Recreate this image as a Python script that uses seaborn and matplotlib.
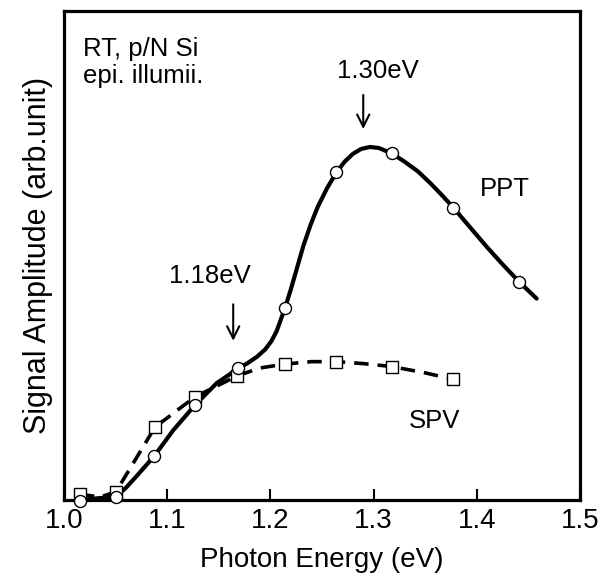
import matplotlib
matplotlib.use("Agg")
import matplotlib.pyplot as plt
import seaborn as sns
import pandas as pd

# markers (photon energy in eV, amplitude in arb. units 0-10)
ppt_x = [1.0155, 1.0504, 1.0875, 1.1269, 1.1689, 1.2141, 1.264, 1.3175, 1.3773, 1.4412]
ppt_y = [-0.02, 0.07, 0.90, 1.94, 2.69, 3.92, 6.70, 7.09, 5.98, 4.46]
spv_x = [1.0155, 1.0504, 1.0882, 1.127, 1.168, 1.214, 1.264, 1.3175, 1.377]
spv_y = [0.12, 0.17, 1.49, 2.11, 2.54, 2.78, 2.83, 2.73, 2.47]

# hand drawn smooth curves
ppt_curve_x = [1.0155, 1.030, 1.0504, 1.060, 1.070, 1.0875, 1.106, 1.1269, 1.148, 1.1689,
               1.178, 1.187, 1.195, 1.201, 1.206, 1.2141, 1.220, 1.226, 1.232, 1.239,
               1.246, 1.255, 1.264, 1.272, 1.280, 1.288, 1.2965, 1.305, 1.3175, 1.330,
               1.343, 1.355, 1.366, 1.3773, 1.393, 1.4096, 1.425, 1.4412, 1.458]
ppt_curve_y = [0.00, 0.03, 0.07, 0.25, 0.48, 0.90, 1.43, 1.94, 2.39, 2.69,
               2.80, 2.93, 3.08, 3.25, 3.45, 3.92, 4.32, 4.76, 5.20, 5.63,
               6.00, 6.38, 6.70, 6.92, 7.08, 7.18, 7.22, 7.20, 7.09, 6.92,
               6.72, 6.48, 6.24, 5.98, 5.59, 5.18, 4.82, 4.46, 4.12]
spv_curve_x = [1.0155, 1.035, 1.0504, 1.0882, 1.127, 1.168, 1.19, 1.214, 1.24, 1.264,
               1.29, 1.3175, 1.35, 1.377]
spv_curve_y = [0.12, 0.06, 0.17, 1.49, 2.11, 2.54, 2.70, 2.78, 2.83, 2.83,
               2.79, 2.73, 2.60, 2.47]

sns.set_style("ticks")
plt.rcParams['font.family'] = ['Liberation Sans', 'DejaVu Sans']
plt.rcParams['text.color'] = 'black'
plt.rcParams['axes.labelcolor'] = 'black'
plt.rcParams['xtick.color'] = 'black'

fig = plt.figure(figsize=(6.11, 5.75), dpi=100)
ax = fig.add_axes([0.1047, 0.1304, 0.8445, 0.8504])

ppt_line = pd.DataFrame({"E": ppt_curve_x, "S": ppt_curve_y})
spv_line = pd.DataFrame({"E": spv_curve_x, "S": spv_curve_y})

sns.lineplot(data=spv_line, x="E", y="S", sort=False, estimator=None, ax=ax,
             color="black", lw=2.6, linestyle=(0, (4, 2.5)), zorder=2)
sns.lineplot(data=ppt_line, x="E", y="S", sort=False, estimator=None, ax=ax,
             color="black", lw=3.0, zorder=3)

sns.scatterplot(x=spv_x, y=spv_y, marker="s", s=64, facecolor="white",
                edgecolor="black", linewidth=1.0, ax=ax, zorder=4, clip_on=False)
sns.scatterplot(x=ppt_x, y=ppt_y, marker="o", s=75, facecolor="white",
                edgecolor="black", linewidth=1.0, ax=ax, zorder=5, clip_on=False)

ax.set_xlim(1.0, 1.5)
ax.set_ylim(0, 10)
ax.set_xticks([1.0, 1.1, 1.2, 1.3, 1.4, 1.5])
ax.set_xticklabels(["1.0", "1.1", "1.2", "1.3", "1.4", "1.5"])
ax.set_yticks([])
ax.tick_params(axis="x", direction="in", length=8, width=1.5, labelsize=20, pad=6,
               colors="black")
for sp in ax.spines.values():
    sp.set_visible(True)
    sp.set_linewidth(2.3)
    sp.set_color("black")

ax.set_xlabel("Photon Energy (eV)", fontsize=20, labelpad=9, color="black")
ax.set_ylabel("Signal Amplitude (arb.unit)", fontsize=22, labelpad=8, color="black")

fs = 18.5
ax.text(1.0184, 9.08, "RT, p/N Si", fontsize=fs, va="baseline", ha="left", color="black")
ax.text(1.0184, 8.53, "epi. illumii.", fontsize=fs, va="baseline", ha="left", color="black")
ax.text(1.304, 8.63, "1.30eV", fontsize=fs, va="baseline", ha="center", color="black")
ax.text(1.141, 4.44, "1.18eV", fontsize=fs, va="baseline", ha="center", color="black")
ax.text(1.427, 6.22, "PPT", fontsize=fs, va="baseline", ha="center", color="black")
ax.text(1.359, 1.47, "SPV", fontsize=fs, va="baseline", ha="center", color="black")

arrow = dict(arrowstyle="->", lw=1.5, color="black", mutation_scale=22)
ax.annotate("", xy=(1.290, 7.53), xytext=(1.290, 8.34), arrowprops=arrow)
ax.annotate("", xy=(1.164, 3.20), xytext=(1.164, 4.06), arrowprops=arrow)

fig.savefig("out.png", dpi=100)
